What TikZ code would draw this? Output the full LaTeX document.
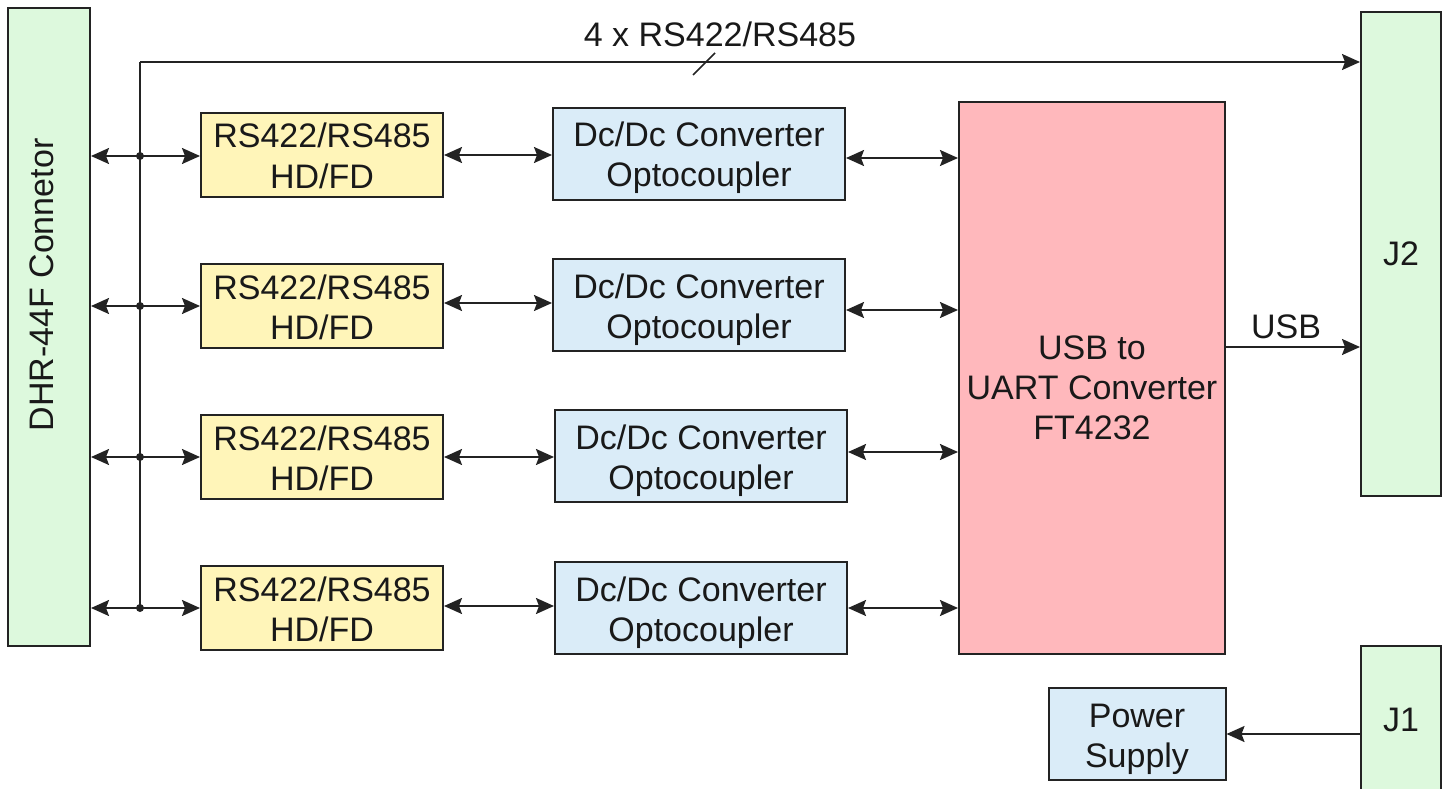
\documentclass[tikz,border=0pt]{standalone}
\usepackage{fontspec}
\setmainfont{Liberation Sans}
\usetikzlibrary{arrows.meta,calc}
\definecolor{cgreen}{RGB}{221,249,221}
\definecolor{cyellow}{RGB}{255,245,185}
\definecolor{cblue}{RGB}{218,236,248}
\definecolor{cpink}{RGB}{255,184,188}
\definecolor{cline}{RGB}{35,35,35}
\definecolor{ctext}{RGB}{25,25,25}
\newcommand\boxtext[1]{\raisebox{-5pt}[\height][\depth]{\begin{tabular}{@{}c@{}}#1\end{tabular}}}
\begin{document}
\begin{tikzpicture}[x=1pt,y=-1pt,
  every node/.style={font=\fontsize{34}{40}\selectfont, text=ctext, align=center, inner sep=0pt},
  box/.style={draw=cline, line width=2pt},
  rsbox/.style={box, fill=cyellow, minimum width=242pt, minimum height=84pt},
  dcbox/.style={box, fill=cblue, minimum width=292pt, minimum height=92pt},
  conn/.style={box, fill=cgreen},
  wire/.style={draw=cline, line width=2pt},
  tip/.style={-{Stealth[length=18pt,width=16pt,inset=3pt]}},
  dtip/.style={{Stealth[length=18pt,width=16pt,inset=3pt]}-{Stealth[length=18pt,width=16pt,inset=3pt]}},
  dot/.style={circle, fill=cline, minimum size=8pt, inner sep=0pt}
]
\useasboundingbox (0,0) rectangle (1454,789);
\clip (0,0) rectangle (1454,789);

% connectors
\node[conn, minimum width=82pt, minimum height=638pt] (dhr) at (49,327) {};
\node[rotate=90, anchor=base] (dhrlabel) at (53,285) {DHR-44F Connetor};
\node[conn, minimum width=80pt, minimum height=484pt] (j2) at (1401,254) {J2};
\node[conn, minimum width=80pt, minimum height=148pt] (j1) at (1401,720) {J1};

% RS boxes
\node[rsbox] (rs1) at (322,155) {\boxtext{RS422/RS485\\HD/FD}};
\node[rsbox] (rs2) at (322,306) {\boxtext{RS422/RS485\\HD/FD}};
\node[rsbox] (rs3) at (322,457) {\boxtext{RS422/RS485\\HD/FD}};
\node[rsbox] (rs4) at (322,608) {\boxtext{RS422/RS485\\HD/FD}};

% DC boxes
\node[dcbox] (dc1) at (699,154) {\boxtext{Dc/Dc Converter\\Optocoupler}};
\node[dcbox] (dc2) at (699,305) {\boxtext{Dc/Dc Converter\\Optocoupler}};
\node[dcbox] (dc3) at (701,456) {\boxtext{Dc/Dc Converter\\Optocoupler}};
\node[dcbox] (dc4) at (701,608) {\boxtext{Dc/Dc Converter\\Optocoupler}};

% USB converter
\node[box, fill=cpink, minimum width=266pt, minimum height=552pt] (usb) at (1092,378) {};
\node (usblabel) at (1092,388) {USB to\\UART Converter\\FT4232};

% power supply
\node[box, fill=cblue, minimum width=177pt, minimum height=92pt] (ps) at (1137,734) {\boxtext{Power\\Supply}};

% bus
\coordinate (b1) at (140,156);
\coordinate (b2) at (140,306);
\coordinate (b3) at (140,457);
\coordinate (b4) at (140,608);
\coordinate (top) at (140,62);
\draw[wire] (b4) -- (top);
\draw[wire, tip] (top) -- (top -| j2.west);
\node[anchor=base] (buslabel) at (720,47) {4 x RS422/RS485};
\coordinate (s1) at (693,75);
\coordinate (s2) at (715,53);
\draw[wire, line width=1.5pt] (s1) -- (s2);

\foreach \i in {1,2,3,4}{
  \draw[wire, tip] (b\i) -- (b\i -| dhr.east);
  \draw[wire, tip] (b\i) -- (b\i -| rs\i.west);
  \node[dot] (d\i) at (b\i) {};
}

% RS -> DC
\draw[wire, dtip] (rs1.east) -- (rs1.east -| dc1.west);
\draw[wire, dtip] ([yshift=3pt]rs2.east) -- ([yshift=3pt]rs2.east -| dc2.west);
\draw[wire, dtip] (rs3.east) -- (rs3.east -| dc3.west);
\draw[wire, dtip] ([yshift=2pt]rs4.east) -- ([yshift=2pt]rs4.east -| dc4.west);

% DC -> USB
\draw[wire, dtip] ([yshift=-4pt]dc1.east) -- ([yshift=-4pt]dc1.east -| usb.west);
\draw[wire, dtip] ([yshift=-5pt]dc2.east) -- ([yshift=-5pt]dc2.east -| usb.west);
\draw[wire, dtip] ([yshift=4pt]dc3.east) -- ([yshift=4pt]dc3.east -| usb.west);
\draw[wire, dtip] (dc4.east) -- (dc4.east -| usb.west);

% USB -> J2
\coordinate (u1) at (1225,347);
\draw[wire, tip] (u1) -- (u1 -| j2.west);
\node[anchor=base] (usbtxt) at (1286,338) {USB};

% J1 -> PS
\draw[wire, tip] (j1.west |- ps.east) -- (ps.east);
\end{tikzpicture}
\end{document}
